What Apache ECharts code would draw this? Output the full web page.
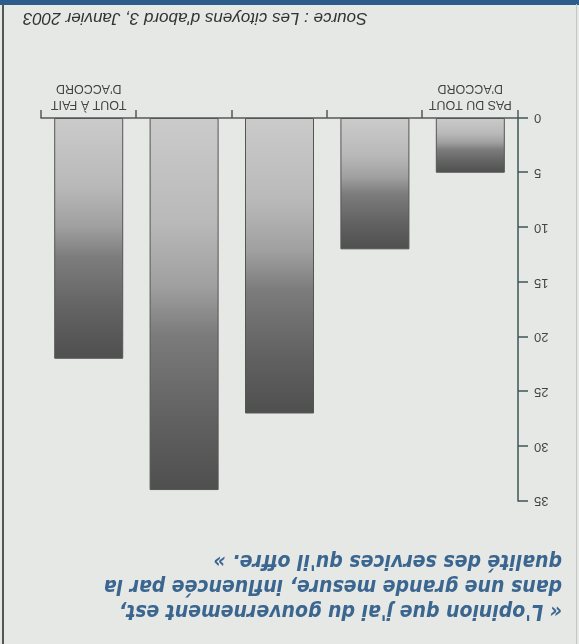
<!DOCTYPE html>
<html>
<head>
<meta charset="utf-8">
<script src="https://cdn.jsdelivr.net/npm/echarts@6/dist/echarts.min.js"></script>
<style>
html,body{margin:0;padding:0;background:#e6e8e5;}
#chart{width:579px;height:644px;transform:rotate(180deg);transform-origin:50% 50%;}
</style>
</head>
<body>
<div id="chart"></div>
<script>
const categories = ["PAS DU TOUT\nD'ACCORD", "", "", "", "TOUT À FAIT\nD'ACCORD"];
const values = [5, 12, 27, 34, 22];
const yTicks = [0, 5, 10, 15, 20, 25, 30, 35];
const titleText = "« L'opinion que j'ai du gouvernement est,\ndans une grande mesure, influencée par la\nqualité des services qu'il offre. »";
const sourceText = "Source : Les citoyens d'abord 3, Janvier 2003";

const chart = echarts.init(document.getElementById('chart'), null, {renderer: 'canvas'});
const barGrad = new echarts.graphic.LinearGradient(0, 0, 0, 1, [
  {offset: 0, color: '#4f4f4f'},
  {offset: 0.2, color: '#626262'},
  {offset: 0.42, color: '#7c7c7c'},
  {offset: 0.55, color: '#a0a0a0'},
  {offset: 0.72, color: '#b9b9b9'},
  {offset: 1, color: '#cbcbcb'}
]);
chart.setOption({
  backgroundColor: '#e6e8e5',
  animation: false,
  title: [{
    text: titleText,
    left: 12, top: 16,
    textStyle: {
      fontFamily: "'Liberation Sans Narrow','DejaVu Sans Condensed',sans-serif",
      fontStyle: 'italic', fontWeight: 'bold', fontSize: 21, lineHeight: 25,
      color: '#3b6690'
    }
  }, {
    text: sourceText,
    right: 18, top: 613,
    textStyle: {
      fontFamily: "'Liberation Sans',sans-serif",
      fontStyle: 'italic', fontWeight: 'normal', fontSize: 17,
      color: '#333333'
    }
  }],
  grid: {left: 61, right: 41, top: 143, bottom: 118},
  xAxis: {
    type: 'category',
    data: categories,
    axisLine: {lineStyle: {color: '#50595c', width: 1.5}},
    axisTick: {show: true, length: 8, lineStyle: {color: '#50595c', width: 1.5}},
    axisLabel: {
      interval: 0, margin: 6, fontSize: 12.5, lineHeight: 16,
      color: '#444444', fontFamily: "'Liberation Sans',sans-serif"
    }
  },
  yAxis: {
    type: 'value',
    min: 0, max: 35, interval: 5,
    axisLine: {show: true, lineStyle: {color: '#3f5656', width: 1.5}},
    axisTick: {show: true, length: 10, lineStyle: {color: '#3f5656', width: 1.5}},
    splitLine: {show: false},
    axisLabel: {
      margin: 16, fontSize: 13, color: '#444444',
      fontFamily: "'Liberation Sans',sans-serif",
      formatter: v => yTicks.includes(v) ? String(v) : ''
    }
  },
  series: [{
    type: 'bar',
    data: values,
    barWidth: 69,
    itemStyle: {color: barGrad, borderColor: '#555555', borderWidth: 1}
  }],
  graphic: [
    {type: 'rect', shape: {x: 0, y: 639, width: 579, height: 5}, style: {fill: '#2c5c8c'}, silent: true},
    {type: 'rect', shape: {x: 575, y: 0, width: 2, height: 640}, style: {fill: '#555555'}, silent: true},
    {type: 'rect', shape: {x: 2, y: 0, width: 1, height: 640}, style: {fill: '#c4c6c4'}, silent: true}
  ]
});
</script>
</body>
</html>
